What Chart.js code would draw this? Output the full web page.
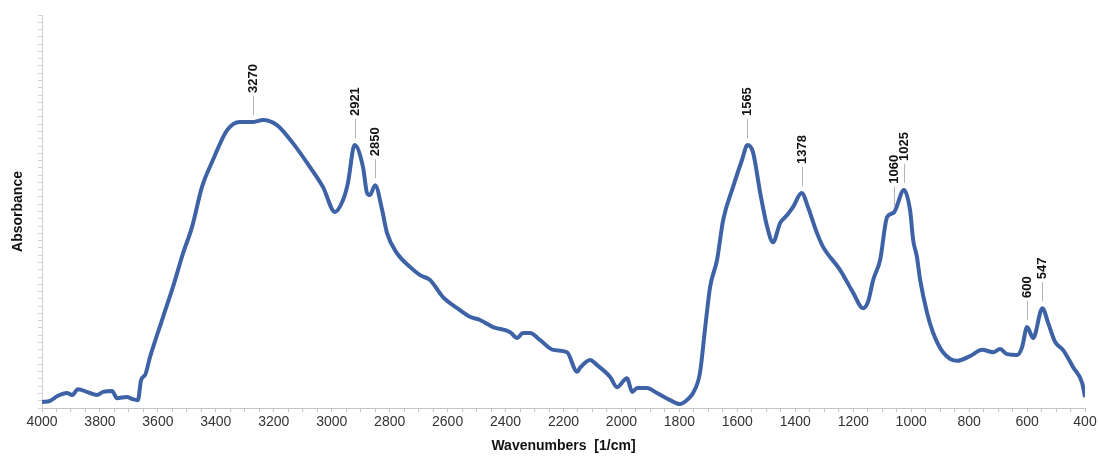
<!DOCTYPE html>
<html>
<head>
<meta charset="utf-8">
<script src="https://cdn.jsdelivr.net/npm/chart.js@4"></script>
<style>
  html, body { margin: 0; padding: 0; background: #fff; }
  #wrap { width: 1099px; height: 460px; position: relative; }
</style>
</head>
<body>
<div id="wrap"><canvas id="ftirChart"></canvas></div>
<script>
// spectrum (wavenumber in 1/cm, absorbance in arbitrary units)
const wavenumbers = [
  4000, 3972, 3945, 3914, 3896, 3876, 3845, 3810, 3789, 3758, 3741, 3707, 3689, 3669,
  3658, 3644, 3627, 3582, 3548, 3513, 3482, 3448, 3410, 3361, 3317, 3270, 3237, 3189,
  3134, 3075, 3030, 2989, 2961, 2944, 2921, 2892, 2878, 2868, 2850, 2826, 2809, 2775,
  2730, 2695, 2661, 2616, 2567, 2523, 2488, 2443, 2384, 2360, 2340, 2315, 2281, 2236,
  2188, 2153, 2143, 2108, 2084, 2039, 2015, 1981, 1963, 1946, 1912, 1877, 1832, 1798,
  1763, 1753, 1729, 1712, 1694, 1670, 1649, 1615, 1584, 1565, 1546, 1521, 1497, 1477,
  1452, 1428, 1408, 1378, 1356, 1325, 1304, 1245, 1200, 1166, 1149, 1131, 1107, 1083,
  1060, 1025, 1004, 993, 980, 969, 945, 924, 890, 841, 797, 755, 717,
  693, 669, 634, 617, 600, 579, 547, 527, 503, 476, 441, 410, 400
];
const absorbance = [
  0.015, 0.018, 0.031, 0.038, 0.033, 0.048, 0.041, 0.033, 0.041, 0.043, 0.025, 0.028, 0.023, 0.020,
  0.071, 0.084, 0.130, 0.232, 0.308, 0.394, 0.461, 0.562, 0.631, 0.707, 0.728, 0.728, 0.733, 0.720,
  0.674, 0.613, 0.562, 0.499, 0.529, 0.573, 0.669, 0.613, 0.547, 0.542, 0.567, 0.504, 0.445, 0.394,
  0.359, 0.338, 0.326, 0.282, 0.254, 0.232, 0.224, 0.206, 0.193, 0.178, 0.191, 0.191, 0.173, 0.148,
  0.142, 0.092, 0.102, 0.122, 0.109, 0.079, 0.053, 0.076, 0.041, 0.051, 0.051, 0.038, 0.020, 0.010,
  0.028, 0.038, 0.089, 0.198, 0.308, 0.377, 0.478, 0.562, 0.631, 0.669, 0.651, 0.547, 0.461, 0.422,
  0.471, 0.491, 0.511, 0.547, 0.511, 0.445, 0.410, 0.351, 0.293, 0.254, 0.270, 0.326, 0.377, 0.486,
  0.497, 0.555, 0.504, 0.427, 0.384, 0.326, 0.242, 0.191, 0.142, 0.120, 0.132, 0.148, 0.142,
  0.150, 0.137, 0.135, 0.155, 0.206, 0.178, 0.254, 0.216, 0.168, 0.148, 0.104, 0.064, 0.028
];

// labelled peaks
const peakWavenumbers = [3270, 2921, 2850, 1565, 1378, 1060, 1025, 600, 547];
const peakLabels = ["3270", "2921", "2850", "1565", "1378", "1060", "1025", "600", "547"];

const xTickStep = 50;
const xLabelStep = 200;

function valueAt(wn) {
  for (let i = 0; i < wavenumbers.length - 1; i++) {
    const a = wavenumbers[i], b = wavenumbers[i + 1];
    if (wn <= a && wn >= b) {
      const t = (a - wn) / (a - b);
      return absorbance[i] + t * (absorbance[i + 1] - absorbance[i]);
    }
  }
  return 0;
}

const peakPlugin = {
  id: "peakLabels",
  afterDatasetsDraw(chart) {
    const { ctx, scales: { x, y } } = chart;
    ctx.save();
    peakWavenumbers.forEach((wn, i) => {
      const px = Math.round(x.getPixelForValue(wn)) + 0.5;
      const py = y.getPixelForValue(valueAt(wn));
      ctx.strokeStyle = "#b4b4b4";
      ctx.lineWidth = 1;
      ctx.beginPath();
      ctx.moveTo(px, py - 7);
      ctx.lineTo(px, py - 26);
      ctx.stroke();
      ctx.save();
      ctx.translate(px, py - 29);
      ctx.rotate(-Math.PI / 2);
      ctx.font = "bold 13px 'Liberation Sans', Arial, sans-serif";
      ctx.fillStyle = "#111";
      ctx.textAlign = "left";
      ctx.textBaseline = "middle";
      ctx.fillText(peakLabels[i], 0, 0);
      ctx.restore();
    });
    ctx.restore();
  }
};

const ctx = document.getElementById("ftirChart");
new Chart(ctx, {
  type: "line",
  data: {
    datasets: [{
      label: "Absorbance",
      data: wavenumbers.map((wn, i) => ({ x: wn, y: absorbance[i] })),
      borderColor: "#3d62a6",
      borderWidth: 4,
      pointRadius: 0,
      cubicInterpolationMode: "monotone",
      fill: false
    }]
  },
  options: {
    responsive: true,
    maintainAspectRatio: false,
    animation: false,
    layout: { padding: { top: 15, right: 14, bottom: 0, left: 0 } },
    plugins: {
      legend: { display: false },
      tooltip: { enabled: false }
    },
    scales: {
      x: {
        type: "linear",
        reverse: true,
        min: 400,
        max: 4000,
        border: { color: "#c4c4c4" },
        grid: { drawOnChartArea: false, tickLength: 4, tickColor: "#c4c4c4" },
        ticks: {
          stepSize: xTickStep,
          autoSkip: false,
          maxRotation: 0,
          padding: 2,
          color: "#333",
          font: { size: 14, family: "'Liberation Sans', Arial, sans-serif" },
          callback: v => (v % xLabelStep === 0 ? String(v) : "")
        },
        title: {
          display: true,
          text: "Wavenumbers  [1/cm]",
          color: "#111",
          font: { size: 14, weight: "bold", family: "'Liberation Sans', Arial, sans-serif" },
          padding: { top: 0, bottom: 5 }
        },
        afterFit: s => { s.height = 52; }
      },
      y: {
        min: 0,
        max: 1,
        border: { color: "#d0d0d0" },
        grid: { drawOnChartArea: false, tickLength: 4, tickColor: "#d4d4d4" },
        ticks: { display: false, stepSize: 1 / 54 },
        title: {
          display: true,
          text: "Absorbance",
          color: "#111",
          font: { size: 14, weight: "bold", family: "'Liberation Sans', Arial, sans-serif" },
          padding: { top: 10, bottom: 0 }
        },
        afterFit: s => { s.width = 42; }
      }
    }
  },
  plugins: [peakPlugin]
});
</script>
</body>
</html>
